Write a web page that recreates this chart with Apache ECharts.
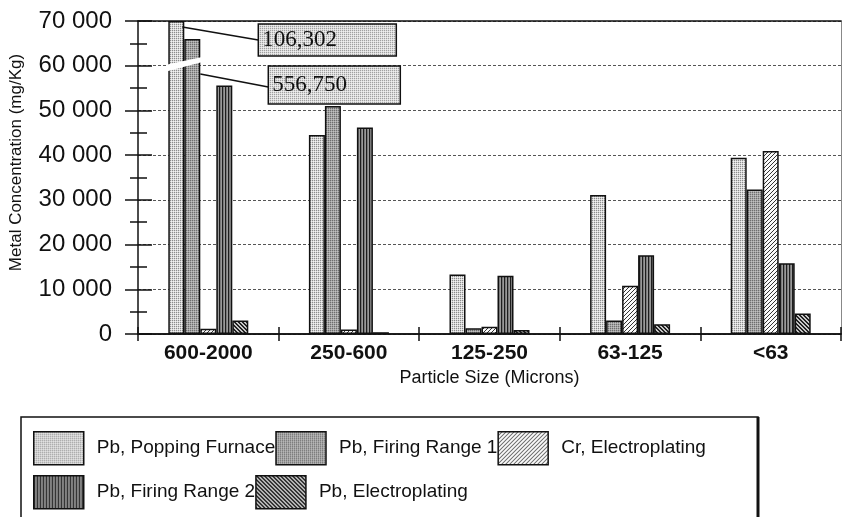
<!DOCTYPE html>
<html><head><meta charset="utf-8">
<script src="https://cdn.jsdelivr.net/npm/echarts@6/dist/echarts.min.js"></script>
<style>html,body{margin:0;padding:0;background:#fff}#c{width:842px;height:517px}</style>
</head><body><div id="c"></div>
<script>
// ---- data ----
const categories = ['600-2000', '250-600', '125-250', '63-125', '<63'];
const seriesNames = ['Pb, Popping Furnace', 'Pb, Firing Range 1', 'Cr, Electroplating', 'Pb, Firing Range 2', 'Pb, Electroplating'];
const poppingFurnace = [70000, 44500, 13300, 31100, 39400];
const firingRange1   = [66000, 51000, 1300, 3000, 32300];
const crElectro      = [1200, 1000, 1600, 10800, 40900];
const firingRange2   = [55600, 46200, 13000, 17600, 15800];
const pbElectro      = [3000, 400, 900, 2200, 4600];
const yTickValues    = [0, 10000, 20000, 30000, 40000, 50000, 60000, 70000];
const yTickLabels    = ['0', '10 000', '20 000', '30 000', '40 000', '50 000', '60 000', '70 000'];
const brokenLabels   = ['106,302', '556,750'];

const seriesValues = [poppingFurnace, firingRange1, crElectro, firingRange2, pbElectro];

// ---- patterns ----
function makePattern(w, h, fn) {
  const c = document.createElement('canvas');
  c.width = w; c.height = h;
  const ctx = c.getContext('2d');
  for (let y = 0; y < h; y++) for (let x = 0; x < w; x++) {
    ctx.fillStyle = fn(x, y); ctx.fillRect(x, y, 1, 1);
  }
  return { image: c, repeat: 'repeat' };
}
const patterns = [
  makePattern(2, 2, (x, y) => (x === 0 && y === 0) ? '#8c8c8c' : ((x + y) === 1 ? '#d8d8d8' : '#f2f2f2')),
  makePattern(2, 2, (x, y) => (x === 0 && y === 0) ? '#6e6e6e' : ((x + y) === 1 ? '#a4a4a4' : '#c0c0c0')),
  makePattern(4, 4, (x, y) => ((x + y) % 4 === 3) ? '#333' : '#fafafa'),
  makePattern(3, 1, (x) => x === 0 ? '#1e1e1e' : (x === 1 ? '#7a7a7a' : '#9a9a9a')),
  makePattern(4, 4, (x, y) => (((x - y + 8) % 4) < 2) ? '#222' : '#c8c8c8')
];
const boxPattern = makePattern(2, 2, (x, y) => (x === 0 && y === 0) ? '#a0a0a0' : ((x + y) === 1 ? '#dcdcdc' : '#efefef'));

const FONT = "'Liberation Sans', Arial, sans-serif";
const SERIF = "'Liberation Serif', 'Times New Roman', serif";
const INK = '#111';

const chart = echarts.init(document.getElementById('c'), null, { renderer: 'canvas' });

const legendCommon = {
  left: 33, padding: 0, itemWidth: 50, itemHeight: 33, itemGap: 0, icon: 'rect', selectedMode: false,
  itemStyle: { borderColor: INK, borderWidth: 1.5 },
  textStyle: { fontSize: 19, fontFamily: FONT, color: INK, width: 177, overflow: 'none', padding: [0, 0, 0, 8] }
};

const option = {
  animation: false,
  backgroundColor: '#fff',
  grid: { left: 138, right: 1, top: 21, bottom: 183 },
  legend: [
    Object.assign({}, legendCommon, { top: 431, data: seriesNames.slice(0, 3) }),
    Object.assign({}, legendCommon, { top: 475, data: seriesNames.slice(3) })
  ],
  xAxis: [
    {
      type: 'category', data: categories, position: 'bottom',
      axisLine: { show: true, onZero: false, lineStyle: { color: INK, width: 1.5 } },
      axisTick: { show: true, inside: false, length: 7, lineStyle: { color: INK, width: 1.5 } },
      axisLabel: { fontSize: 21, fontWeight: 'bold', color: INK, fontFamily: FONT, margin: 9 },
      name: 'Particle Size (Microns)', nameLocation: 'middle', nameGap: 35,
      nameTextStyle: { fontSize: 18, color: INK, fontFamily: FONT }
    },
    {
      type: 'category', data: categories, position: 'top',
      axisLine: { show: true, onZero: false, lineStyle: { color: INK, width: 1.5 } },
      axisTick: { show: false }, axisLabel: { show: false }
    },
    {
      type: 'category', data: categories, position: 'bottom',
      axisLine: { show: true, onZero: false, lineStyle: { color: INK, width: 1.5 } },
      axisTick: { show: true, inside: true, length: 7, lineStyle: { color: INK, width: 1.5 } },
      axisLabel: { show: false }
    }
  ],
  yAxis: [
    {
      type: 'value', min: 0, max: 70000, interval: 10000, position: 'left',
      axisLine: { show: true, onZero: false, lineStyle: { color: INK, width: 1.5 } },
      axisTick: { show: true, inside: false, length: 13, lineStyle: { color: INK, width: 1.5 } },
      minorTick: { show: true, splitNumber: 2, length: 8, lineStyle: { color: INK, width: 1.5 } },
      axisLabel: {
        fontSize: 24, color: INK, fontFamily: FONT, margin: 26,
        formatter: v => yTickLabels[yTickValues.indexOf(v)]
      },
      splitLine: { show: true, lineStyle: { color: '#555', width: 1, type: [3, 2] } },
      name: 'Metal Concentration (mg/Kg)', nameLocation: 'middle', nameGap: 113,
      nameTextStyle: { fontSize: 17, color: INK, fontFamily: FONT, padding: [0, 0, 0, 30] }
    },
    {
      type: 'value', min: 0, max: 70000, interval: 10000, position: 'left',
      axisLine: { show: false },
      axisTick: { show: true, inside: true, length: 14, lineStyle: { color: INK, width: 1.5 } },
      minorTick: { show: true, splitNumber: 2, length: 9, lineStyle: { color: INK, width: 1.5 } },
      axisLabel: { show: false }, splitLine: { show: false }
    },
    {
      type: 'value', min: 0, max: 70000, interval: 10000, position: 'right',
      axisLine: { show: true, onZero: false, lineStyle: { color: '#888', width: 1 } },
      axisTick: { show: false }, axisLabel: { show: false }, splitLine: { show: false }
    }
  ],
  series: seriesNames.map((n, i) => ({
    name: n, type: 'bar', data: seriesValues[i], barWidth: 16, barGap: '0%',
    xAxisIndex: 0, yAxisIndex: 0,
    itemStyle: { color: patterns[i], borderColor: INK, borderWidth: 1.5 }
  }))
};
chart.setOption(option);

// ---- annotations anchored to data coordinates ----
const px = (c, v) => chart.convertToPixel({ xAxisIndex: 0, yAxisIndex: 0 }, [c, v]);
const top0 = px(0, 70000);
const cx = top0[0], ty = top0[1];
const bL = px(0, 60200), bR = px(0, 62000), bR2 = px(0, 60900), bL2 = px(0, 58700);
chart.setOption({
  graphic: [
    { type: 'polygon', z: 100, shape: { points: [[cx - 42, bL[1]], [cx - 5, bR[1]], [cx - 5, bR2[1]], [cx - 42, bL2[1]]] },
      style: { fill: '#fff', stroke: null } },
    { type: 'line', z: 100, shape: { x1: cx - 26, y1: ty + 6, x2: cx + 50, y2: ty + 19 }, style: { stroke: INK, lineWidth: 1.5 } },
    { type: 'rect', z: 100, shape: { x: cx + 50, y: ty + 3, width: 138, height: 32 }, style: { fill: boxPattern, stroke: INK, lineWidth: 1.5 } },
    { type: 'text', z: 101, x: cx + 54, y: ty + 19, style: { text: brokenLabels[0], font: '23px ' + SERIF, fill: INK, verticalAlign: 'middle' } },
    { type: 'line', z: 100, shape: { x1: cx - 8, y1: ty + 53, x2: cx + 60, y2: ty + 66 }, style: { stroke: INK, lineWidth: 1.5 } },
    { type: 'rect', z: 100, shape: { x: cx + 60, y: ty + 45, width: 132, height: 38 }, style: { fill: boxPattern, stroke: INK, lineWidth: 1.5 } },
    { type: 'text', z: 101, x: cx + 64, y: ty + 64, style: { text: brokenLabels[1], font: '23px ' + SERIF, fill: INK, verticalAlign: 'middle' } },
    // legend frame
    { type: 'rect', z: 1, shape: { x: 21, y: 417, width: 737, height: 130 }, style: { fill: null, stroke: INK, lineWidth: 1.5 } },
    { type: 'line', z: 1, shape: { x1: 758, y1: 417, x2: 758, y2: 517 }, style: { stroke: INK, lineWidth: 3 } }
  ]
});
</script>
</body></html>
